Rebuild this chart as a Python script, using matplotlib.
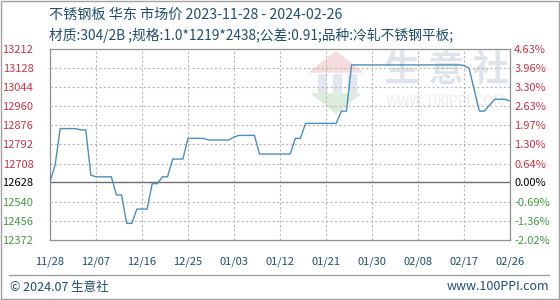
import matplotlib
import matplotlib.pyplot as plt
import numpy as np
from matplotlib.patches import Rectangle
from matplotlib.lines import Line2D

matplotlib.use("Agg")

plt.rcParams['font.family'] = ['Noto Sans CJK SC', 'DejaVu Sans']

# daily price, day 0 = 2023-11-28
days = list(range(91))
prices = [12628, 12702, 12862, 12862, 12862, 12862, 12856, 12856, 12657, 12650,
          12650, 12650, 12650, 12570, 12570, 12445, 12445, 12508, 12508, 12508,
          12620, 12620, 12650, 12650, 12728, 12728, 12728, 12819, 12819, 12819,
          12819, 12812, 12812, 12812, 12812, 12812, 12825, 12832, 12832, 12832,
          12832, 12750, 12750, 12750, 12750, 12750, 12750, 12750, 12819, 12819,
          12885, 12885, 12885, 12885, 12885, 12885, 12885, 12939, 12939, 13142,
          13142, 13142, 13142, 13142, 13142, 13142, 13142, 13142, 13142, 13142,
          13142, 13142, 13142, 13142, 13142, 13142, 13142, 13142, 13142, 13142,
          13142, 13140, 13127, 13033, 12939, 12939, 12965, 12991, 12991, 12991,
          12983]

base = 12628
left_ticks = [13212, 13128, 13044, 12960, 12876, 12792, 12708, 12628, 12540, 12456, 12372]
right_labels = ['4.63%', '3.96%', '3.30%', '2.63%', '1.97%', '1.30%', '0.64%', '0.00%',
                '-0.69%', '-1.36%', '-2.02%']
x_ticks = [0, 9, 18, 27, 36, 45, 54, 63, 72, 81, 90]
x_labels = ['11/28', '12/07', '12/16', '12/25', '01/03', '01/12', '01/21', '01/30',
            '02/08', '02/17', '02/26']

title = '不锈钢板 华东 市场价 2023-11-28 - 2024-02-26'
subtitle = '材质:304/2B ;规格:1.0*1219*2438;公差:0.91;品种:冷轧不锈钢平板;'

RED = '#cc3344'
GREEN = '#449944'
BLUE = '#1f4e6e'


def tick_color(v):
    if v > base:
        return RED
    if v < base:
        return GREEN
    return 'black'


def ax_xy(px, py):
    # pixel position in the picture -> axes fraction
    return (px - 50) / 460, (240 - py) / 191


fig = plt.figure(figsize=(5.6, 3.0), dpi=100)
fig.patches.append(Rectangle((0.002, 0.003), 0.996, 0.994, transform=fig.transFigure,
                             fill=False, edgecolor='#a0a0a0', linewidth=1))

ax = fig.add_axes([50 / 560, 60 / 300, 460 / 560, 191 / 300])
ax.set_xlim(0, 90)
ax.set_ylim(12372, 13212)

# grid
for t in x_ticks[1:-1]:
    ax.axvline(t, color='#b8b8b8', linestyle=(0, (2, 2)), linewidth=0.8)
for v in left_ticks[1:-1]:
    if v != base:
        ax.axhline(v, color='#b8b8b8', linestyle=(0, (2, 2)), linewidth=0.8)
ax.axhline(base, color='#707070', linewidth=1)

# watermark
ax.text(*ax_xy(446, 70), '生 意 社', transform=ax.transAxes, fontsize=26, color='#dfe4ea',
        ha='center', va='center', fontweight='bold', zorder=0)
ax.text(*ax_xy(445, 102), 'WWW.100PPI.COM', transform=ax.transAxes, fontsize=10, color='#ebebeb',
        ha='center', va='center', zorder=0)
roof = [ax_xy(310, 72), ax_xy(336, 52), ax_xy(362, 72)]
ax.fill([p[0] for p in roof], [p[1] for p in roof], transform=ax.transAxes, color='#f6dcdc', zorder=0)
for bx in (318, 333, 348):
    x0, y0 = ax_xy(bx, 92)
    x1, y1 = ax_xy(bx + 8, 74)
    ax.add_patch(Rectangle((x0, y0), x1 - x0, y1 - y0, transform=ax.transAxes,
                           color='#e2e7ee', zorder=0))
leaf = [ax_xy(312, 94), ax_xy(360, 94), ax_xy(336, 113)]
ax.fill([p[0] for p in leaf], [p[1] for p in leaf], transform=ax.transAxes, color='#dcecdc', zorder=0)

ax.plot(days, prices, color='#4a8fbf', linewidth=1, zorder=3)

for s in ax.spines.values():
    s.set_color('#909090')
    s.set_linewidth(0.9)

ax.set_xticks(x_ticks)
ax.set_xticklabels(x_labels, fontsize=8, color=BLUE)
ax.set_yticks(left_ticks)
ax.set_yticklabels([str(v) for v in left_ticks], fontsize=8)
for lbl, v in zip(ax.get_yticklabels(), left_ticks):
    lbl.set_color(tick_color(v))
ax.tick_params(axis='both', length=0)
ax.tick_params(axis='x', pad=12)
ax.tick_params(axis='y', pad=12)

ax2 = ax.twinx()
ax2.set_ylim(ax.get_ylim())
ax2.set_yticks(left_ticks)
ax2.set_yticklabels(right_labels, fontsize=8)
for lbl, v in zip(ax2.get_yticklabels(), left_ticks):
    lbl.set_color(tick_color(v))
ax2.tick_params(axis='y', length=0, pad=3)
for s in ax2.spines.values():
    s.set_visible(False)

fig.text(49 / 560, 1 - 15 / 300, title, fontsize=10.2, color=BLUE, va='center')
fig.text(49 / 560, 1 - 35 / 300, subtitle, fontsize=9.9, color=BLUE, va='center')

fig.lines.append(Line2D([9 / 560, 549 / 560], [1 - 275 / 300, 1 - 275 / 300],
                        transform=fig.transFigure, color='#a0a0a0', linewidth=1))
fig.text(10 / 560, 1 - 287 / 300, '© 2024.07 生意社', fontsize=9, color=BLUE, va='center')
fig.text(549 / 560, 1 - 287 / 300, 'www.100PPI.com', fontsize=9, color=BLUE, va='center', ha='right')

fig.savefig('out.png', dpi=100)
